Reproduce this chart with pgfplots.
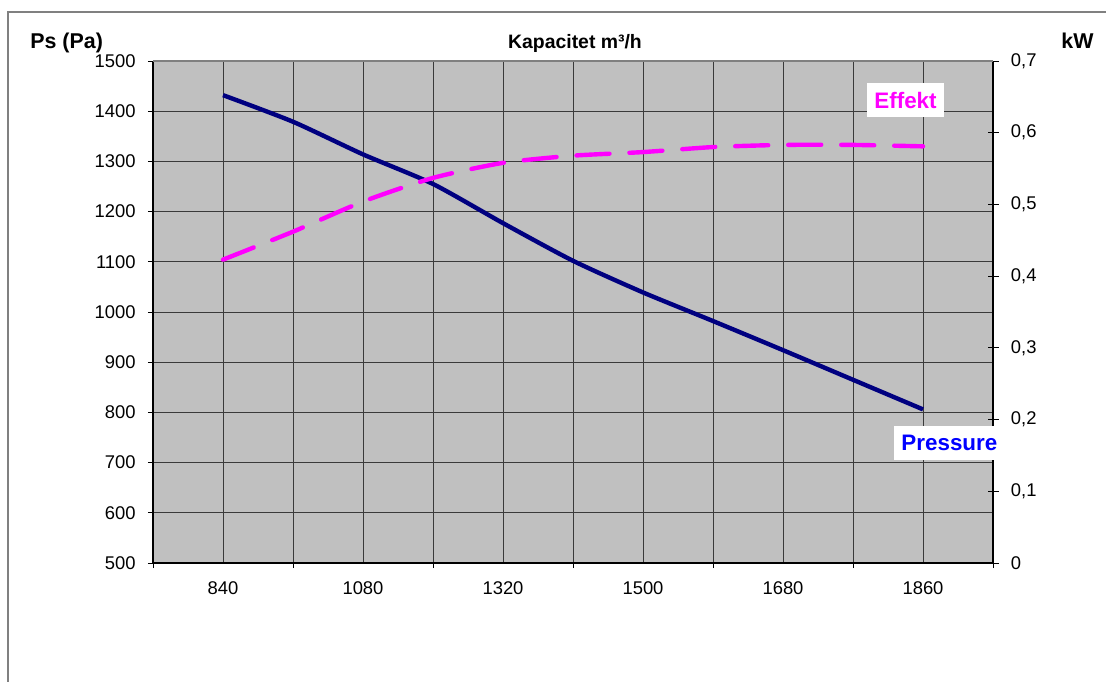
\documentclass[border=0pt]{standalone}
\usepackage{fontspec}
\setmainfont{Liberation Sans}
\usepackage{pgfplots}
\pgfplotsset{compat=1.18}
\definecolor{plotbg}{HTML}{C0C0C0}
\definecolor{gridc}{HTML}{3A3A3A}
\definecolor{pressline}{HTML}{000080}
\definecolor{effline}{HTML}{FF00FF}
\definecolor{presstext}{HTML}{0000FF}
\definecolor{framec}{HTML}{808080}

\begin{document}
\begin{tikzpicture}
\useasboundingbox (-76.5pt,-59pt) rectangle (476.5pt,281.5pt);
% outer chart frame (cut off by the page on right and bottom)
\draw[framec, line width=0.6pt] (-72.5pt,-60pt) -- (-72.5pt,275.5pt) -- (477pt,275.5pt);

% left axis: pressure
\begin{axis}[
  at={(0pt,0pt)}, anchor=south west,
  scale only axis, width=420pt, height=251pt,
  xmin=-1, xmax=11, ymin=500, ymax=1500,
  axis background/.style={fill=plotbg},
  axis x line*=bottom, axis y line*=left,
  axis line style={-, black, line width=0.75pt},
  xtick={0,2,...,10}, xticklabels={840,1080,1320,1500,1680,1860},
  minor xtick={-1,1,...,11},
  ytick={500,600,...,1500},
  xmajorgrids, xminorgrids, ymajorgrids,
  major grid style={gridc, line width=0.5pt},
  minor grid style={gridc, line width=0.5pt},
  tick align=outside, major tick length=2.5pt, minor tick length=2.5pt,
  tick style={black, line width=0.5pt},
  every major x tick/.append style={draw=none},
  tick label style={font=\fontsize{9.2}{10}\selectfont, inner sep=0pt},
  xticklabel style={anchor=north, yshift=-6.5pt},
  yticklabel style={anchor=east, xshift=-6pt},
  /pgf/number format/assume math mode=true,
  /pgf/number format/1000 sep={},
]
\addplot[pressline, line width=2.2pt, smooth, tension=0.4] coordinates {
  (0,1432) (1,1379) (2,1314) (3,1255) (4,1177) (5,1102)
  (6,1039) (7,982) (8,924) (9,865) (10,806)
};
\end{axis}

% right axis: power
\begin{axis}[
  at={(0pt,0pt)}, anchor=south west,
  scale only axis, width=420pt, height=251pt,
  xmin=-1, xmax=11, ymin=0, ymax=0.7,
  hide x axis,
  axis y line*=right,
  y axis line style={-, black, line width=0.75pt},
  ytick={0,0.1,0.2,0.3,0.4,0.5,0.6,0.7},
  tick align=center, major tick length=5.5pt,
  tick style={black, line width=0.5pt},
  yticklabel style={font=\fontsize{9.2}{10}\selectfont, inner sep=0pt,
    anchor=west, xshift=6pt},
  yticklabel style={/pgf/number format/.cd, fixed, precision=1, use comma,
    assume math mode=true},
]
\addplot[effline, line width=2.2pt, smooth, tension=0.4, line cap=round,
  dash pattern=on 16.5pt off 10pt] coordinates {
  (0,0.423) (1,0.462) (2,0.504) (3,0.537) (4,0.558) (5,0.568)
  (6,0.573) (7,0.580) (8,0.583) (9,0.583) (10,0.581)
};
\end{axis}

% top edge of the plot area
\draw[framec, line width=0.9pt] (0pt,251pt) -- (420pt,251pt);

\node[anchor=base, inner sep=0pt, font=\fontsize{9.7}{11}\selectfont\bfseries]
  at (211pt,257.4pt) {Kapacitet m³/h};
\node[anchor=base west, inner sep=0pt, font=\fontsize{10.7}{12}\selectfont\bfseries]
  at (-61.5pt,257.4pt) {Ps (Pa)};
\node[anchor=base west, inner sep=0pt, font=\fontsize{10.7}{12}\selectfont\bfseries]
  at (454pt,257.4pt) {kW};
\node[fill=white, text=effline, inner xsep=3.6pt, minimum height=16.7pt,
  font=\fontsize{11.2}{12}\selectfont\bfseries] at (376.25pt,231.5pt) {Effekt};
\node[fill=white, text=presstext, inner xsep=3.5pt, minimum height=16.7pt,
  font=\fontsize{11.2}{12}\selectfont\bfseries] at (398.2pt,60pt) {Pressure};
\end{tikzpicture}
\end{document}
